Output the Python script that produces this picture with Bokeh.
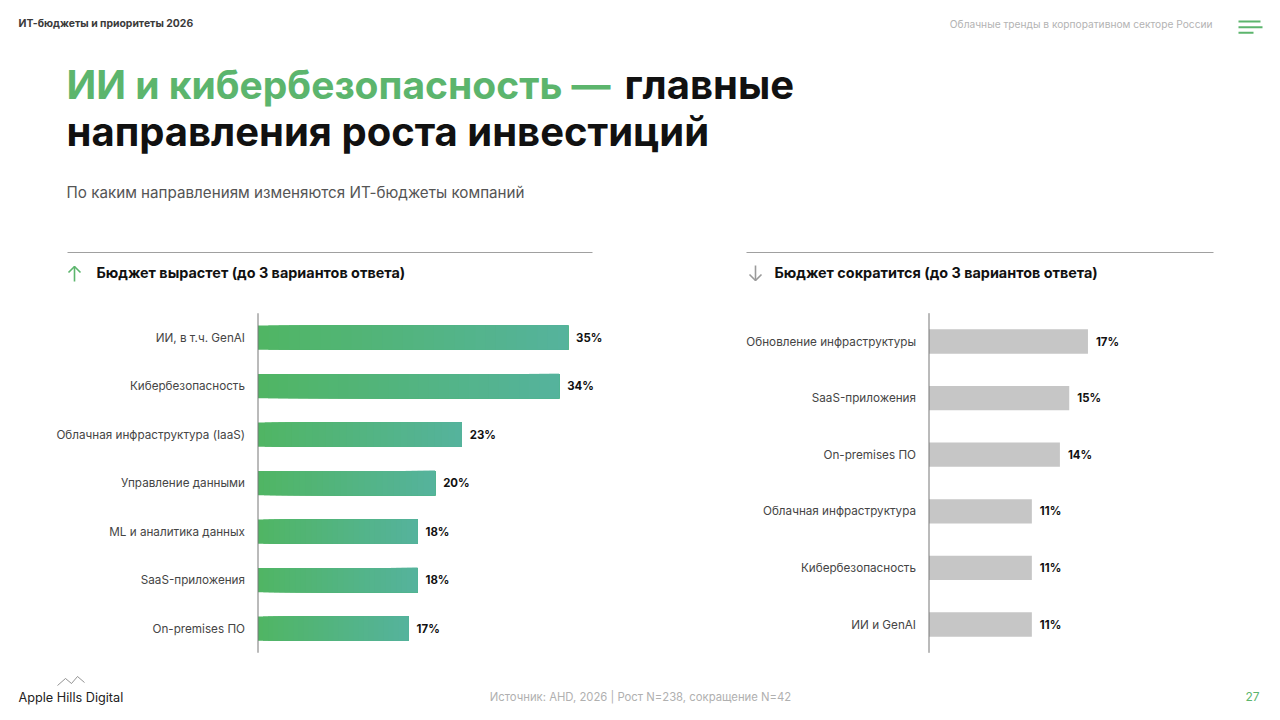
from bokeh.plotting import figure
from bokeh.models import Range1d, LinearScale
from bokeh.core.properties import value
from bokeh.embed import file_html
from bokeh.resources import INLINE

# ---------------- data ----------------
up_cats = ["ИИ, в т.ч. GenAI", "Кибербезопасность", "Облачная инфраструктура (IaaS)",
           "Управление данными", "ML и аналитика данных", "SaaS-приложения", "On-premises ПО"]
up_vals = [35, 34, 23, 20, 18, 18, 17]

down_cats = ["Обновление инфраструктуры", "SaaS-приложения", "On-premises ПО",
             "Облачная инфраструктура", "Кибербезопасность", "ИИ и GenAI"]
down_vals = [17, 15, 14, 11, 11, 11]

header_left = "ИТ-бюджеты и приоритеты 2026"
header_right = "Облачные тренды в корпоративном секторе России"
title_green = "ИИ и кибербезопасность —"
title_black_1 = "главные"
title_black_2 = "направления роста инвестиций"
subtitle = "По каким направлениям изменяются ИТ-бюджеты компаний"
up_header = "Бюджет вырастет (до 3 вариантов ответа)"
down_header = "Бюджет сократится (до 3 вариантов ответа)"
brand = "Apple Hills Digital"
source = "Источник: AHD, 2026 | Рост N=238, сокращение N=42"
page_no = "27"

# ---------------- style ----------------
FONT = value("Inter")
GREEN = "#5cb56d"
DARK = "#111111"
GRAD_A = (0x50, 0xb5, 0x64)
GRAD_B = (0x55, 0xb3, 0x9c)
GREY_BAR = "#c6c6c6"

W, H = 1272, 712
p = figure(width=W, height=H, output_backend="svg", toolbar_location=None,
           x_range=Range1d(0, W), y_range=Range1d(H, 0),
           x_axis_location=None, y_axis_location=None,
           min_border=0, min_border_left=0, min_border_right=0,
           min_border_top=0, min_border_bottom=0)
p.grid.visible = False
p.outline_line_color = None
p.background_fill_color = "white"
p.border_fill_color = "white"


def txt(x, y, s, size, color, style="normal", align="left", font=FONT):
    p.text(x=[x], y=[y], text=[s], text_font=font, text_font_size=size,
           text_color=color, text_font_style=style, text_align=align,
           text_baseline="middle")


# header
txt(18, 22.5, header_left, "10.4px", "#3a3a3a", "bold")
txt(1212, 23, header_right, "10.2px", "#b3b3b3", align="right")
p.segment(x0=[1238, 1238, 1238], y0=[21, 26.7, 32.3], x1=[1260, 1262, 1253],
          y1=[21, 26.7, 32.3], line_color=GREEN, line_width=2)

# title
txt(66, 84, title_green, "39px", GREEN, "bold")
txt(624, 84, title_black_1, "40px", DARK, "bold")
txt(66, 131, title_black_2, "40px", DARK, "bold")
txt(66, 192, subtitle, "15.2px", "#555555")

# section rules
p.segment(x0=[67, 746], y0=[252, 252], x1=[592, 1213], y1=[252, 252],
          line_color="#a0a0a0", line_width=1)

# section headers with arrows
txt(96, 272, up_header, "14.4px", DARK, "bold")
p.segment(x0=[74], y0=[266], x1=[74], y1=[281], line_color=GREEN, line_width=1.6)
p.line(x=[68, 74, 80], y=[272, 266, 272], line_color=GREEN, line_width=1.6)

txt(774, 272, down_header, "14.4px", DARK, "bold")
p.segment(x0=[755], y0=[265], x1=[755], y1=[280], line_color="#9a9a9a", line_width=1.6)
p.line(x=[749, 755, 761], y=[274, 280, 274], line_color="#9a9a9a", line_width=1.6)


def bar_chart(cats, vals, x0, px_per_unit, xmax, y_top, y_bot, bar_frac, gradient):
    n_cat = len(cats)
    pos = [i + 0.5 for i in range(n_cat)]  # category slots, top to bottom
    sub = p.subplot(
        x_source=Range1d(0, xmax), x_scale=LinearScale(),
        x_target=Range1d(x0, x0 + xmax * px_per_unit),
        y_source=Range1d(0, n_cat), y_scale=LinearScale(),
        y_target=Range1d(y_top, y_bot))
    if gradient:
        n = 30
        ys, ls, rs, cs = [], [], [], []
        for k in range(n):
            t = k / (n - 1)
            col = tuple(int(round(a + (b - a) * t)) for a, b in zip(GRAD_A, GRAD_B))
            for yy, v in zip(pos, vals):
                ys.append(yy)
                ls.append(v * k / n)
                rs.append(v)
                cs.append("#%02x%02x%02x" % col)
        sub.hbar(y=ys, left=ls, right=rs, height=bar_frac, fill_color=cs,
                 line_color=None)
    else:
        sub.hbar(y=pos, left=0, right=vals, height=bar_frac,
                 fill_color=GREY_BAR, line_color=None)
    # category labels (axis tick labels)
    sub.text(x=[0] * n_cat, y=pos, text=cats, x_offset=-13,
             text_align="right", text_baseline="middle", text_font=FONT,
             text_font_size="11.7px", text_color="#454545")
    # value labels
    sub.text(x=vals, y=pos, text=["%d%%" % v for v in vals], x_offset=8,
             text_align="left", text_baseline="middle", text_font=FONT,
             text_font_size="11.4px", text_font_style="bold", text_color=DARK)
    # axis line
    sub.segment(x0=[0], y0=[0], x1=[0], y1=[n_cat], line_color="#777777",
                line_width=1)


bar_chart(up_cats, up_vals, 257.5, 8.86, 40, 312.75, 652.25, 0.5, True)
bar_chart(down_cats, down_vals, 928.5, 9.35, 30, 312.7, 652.3, 0.43, False)

# footer
p.line(x=[57, 65, 71, 77, 84], y=[685, 678, 683, 676, 682], line_color="#777777",
       line_width=0.8)
txt(18, 696.5, brand, "12.7px", "#222222")
txt(640, 696, source, "11.3px", "#b0b0b0", align="center")
txt(1259, 696, page_no, "12px", GREEN, align="right")

open("out.html", "w").write(file_html(p, INLINE))
